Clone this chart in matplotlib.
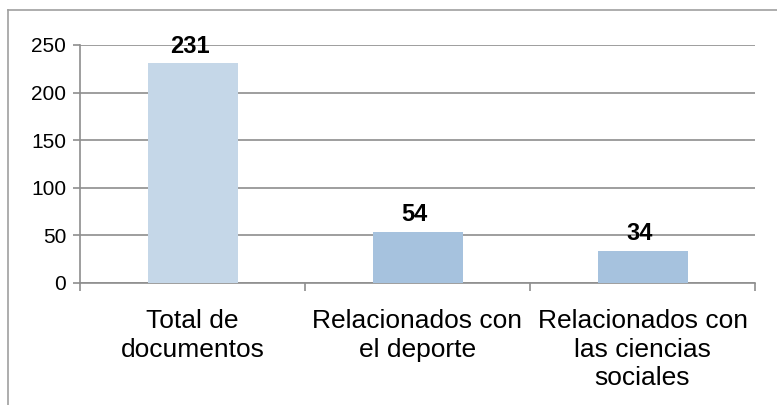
import matplotlib
matplotlib.use('Agg')
import matplotlib.pyplot as plt
from matplotlib.lines import Line2D
import numpy as np

plt.rcParams['font.family'] = ['Liberation Sans', 'DejaVu Sans']

categories = ['Total de\ndocumentos', 'Relacionados con\nel deporte',
              'Relacionados con\nlas ciencias\nsociales']
values = [231, 54, 34]
bar_colors = ['#C5D7E8', '#A6C2DE', '#A6C2DE']

grid_gray = '#8E8E8E'

fig = plt.figure(figsize=(7.77, 4.05), dpi=100)
ax = fig.add_axes([80/777, 1 - 283/405, (755 - 80)/777, (283 - 45)/405])

x = np.arange(len(categories))
bars = ax.bar(x, values, width=0.4, color=bar_colors, zorder=3)

ax.set_xlim(-0.5, len(categories) - 0.5)
ax.set_ylim(0, 250)
ax.set_yticks(np.arange(0, 251, 50))
ax.yaxis.grid(True, color=grid_gray, linewidth=1.2, zorder=0)
ax.set_axisbelow(True)

for s in ['top', 'right']:
    ax.spines[s].set_visible(False)
for s in ['left', 'bottom']:
    ax.spines[s].set_color(grid_gray)
    ax.spines[s].set_linewidth(1.2)

ax.tick_params(axis='y', length=5, width=1.2, color=grid_gray, labelsize=15, pad=5)
ax.set_xticks(x)
ax.set_xticklabels(categories, fontsize=19, linespacing=1.22, va='top')
ax.tick_params(axis='x', which='major', length=0, pad=19)
ax.set_xticks(np.arange(-0.5, len(categories)), minor=True)
ax.tick_params(axis='x', which='minor', length=6, width=1.2, color=grid_gray)

for rect, v in zip(bars, values):
    ax.annotate(str(v), xy=(rect.get_x() + rect.get_width() / 2, rect.get_height()),
                xytext=(-2, 4), textcoords='offset points',
                ha='center', va='bottom', fontsize=17, fontweight='bold', zorder=4)

# chart frame (partly cropped)
fig.add_artist(Line2D([8/777, 8/777], [0, 1 - 10/405], color='#A0A0A0', linewidth=1.2))
fig.add_artist(Line2D([8/777, 1], [1 - 10/405, 1 - 10/405], color='#A0A0A0', linewidth=1.2))

fig.savefig('out.png', dpi=100)
